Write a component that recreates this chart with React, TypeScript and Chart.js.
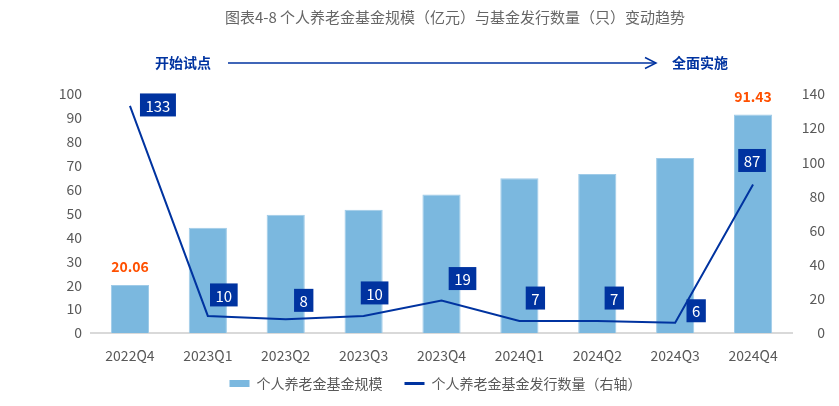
import React, { useEffect, useRef } from "react";
import { Chart, registerables } from "chart.js";

Chart.register(...registerables);

const categories = ["2022Q4", "2023Q1", "2023Q2", "2023Q3", "2023Q4", "2024Q1", "2024Q2", "2024Q3", "2024Q4"];
const fundSize = [20.06, 44.0, 49.5, 51.6, 57.9, 64.8, 66.5, 73.2, 91.43];
const fundCount = [133, 10, 8, 10, 19, 7, 7, 6, 87];
const sizeLabelIndexes = [0, 8];
const leftTicksMax = 100;
const rightTicksMax = 140;

const TITLE = "图表4-8 个人养老金基金规模（亿元）与基金发行数量（只）变动趋势";
const NAME_SIZE = "个人养老金基金规模";
const NAME_COUNT = "个人养老金基金发行数量（右轴）";
const PHASE_START = "开始试点";
const PHASE_END = "全面实施";

// label box offsets relative to each line point (style)
const LABEL_OFFSETS: [number, number][] = [
  [28, -1], [16, -21], [18, -19], [11, -23], [21, -22], [16, -23], [17, -23], [21, -12], [-1, -24],
];

const FONT = "'Noto Sans CJK SC', 'Noto Sans', sans-serif";
const BAR_COLOR = "#7bb8df";
const LINE_COLOR = "#0033a0";
const TEXT_COLOR = "#595959";

export default function App() {
  const ref = useRef<HTMLCanvasElement | null>(null);

  useEffect(() => {
    if (!ref.current) return;
    Chart.defaults.font.family = FONT;

    const decor = {
      id: "decor",
      afterLayout(chart: any) {
        const lg = chart.legend;
        if (lg) {
          lg.left += 23;
          lg.right += 23;
          lg.top -= 9.5;
          lg.bottom -= 9.5;
        }
      },
      afterDraw(chart: any) {
        const ctx = chart.ctx;
        ctx.save();
        // title
        ctx.font = `15px ${FONT}`;
        ctx.fillStyle = "#666666";
        ctx.textAlign = "center";
        ctx.textBaseline = "middle";
        ctx.fillText(TITLE, 455, 17);

        // phase annotation
        ctx.font = `bold 14px ${FONT}`;
        ctx.fillStyle = LINE_COLOR;
        ctx.textAlign = "left";
        ctx.fillText(PHASE_START, 155, 63);
        ctx.fillText(PHASE_END, 672, 63);
        ctx.strokeStyle = LINE_COLOR;
        ctx.lineWidth = 1.5;
        ctx.beginPath();
        ctx.moveTo(228, 63);
        ctx.lineTo(656, 63);
        ctx.stroke();
        ctx.beginPath();
        ctx.moveTo(645, 57.5);
        ctx.lineTo(656, 63);
        ctx.lineTo(645, 68.5);
        ctx.stroke();

        // bar value labels
        const barMeta = chart.getDatasetMeta(0);
        ctx.font = `bold 14px ${FONT}`;
        ctx.fillStyle = "#ff5000";
        ctx.textAlign = "center";
        sizeLabelIndexes.forEach((i) => {
          const el = barMeta.data[i];
          ctx.fillText(fundSize[i].toFixed(2), el.x, el.y - 18);
        });

        // line value labels
        const lineMeta = chart.getDatasetMeta(1);
        ctx.font = `15px ${FONT}`;
        lineMeta.data.forEach((pt: any, i: number) => {
          const txt = String(fundCount[i]);
          const w = ctx.measureText(txt).width + 11;
          const h = 23;
          const [dx, dy] = LABEL_OFFSETS[i];
          const cx = pt.x + dx;
          const cy = pt.y + dy;
          ctx.fillStyle = LINE_COLOR;
          ctx.fillRect(cx - w / 2, cy - h / 2, w, h);
          ctx.fillStyle = "#ffffff";
          ctx.textAlign = "center";
          ctx.textBaseline = "middle";
          ctx.fillText(txt, cx, cy + 1);
        });
        ctx.restore();
      },
    };

    const chart = new Chart(ref.current, {
      type: "bar",
      data: {
        labels: categories,
        datasets: [
          {
            type: "bar",
            label: NAME_SIZE,
            data: fundSize,
            backgroundColor: BAR_COLOR,
            borderColor: "#9fcbe8",
            borderWidth: 1,
            categoryPercentage: 1,
            barPercentage: 0.49,
            yAxisID: "y",
            order: 1,
          },
          {
            type: "line",
            label: NAME_COUNT,
            data: fundCount,
            borderColor: LINE_COLOR,
            backgroundColor: LINE_COLOR,
            borderWidth: 2,
            pointRadius: 0,
            tension: 0,
            yAxisID: "y1",
            order: 0,
          },
        ],
      } as any,
      options: {
        animation: false,
        responsive: true,
        maintainAspectRatio: false,
        layout: { padding: { top: 94, bottom: -4, left: 0, right: 14 } },
        plugins: {
          title: { display: false },
          tooltip: { enabled: false },
          legend: {
            position: "bottom",
            labels: {
              color: TEXT_COLOR,
              font: { size: 14, family: FONT },
              usePointStyle: true,
              pointStyleWidth: 20,
              boxHeight: 7,
              padding: 22,
              generateLabels(chart: any) {
                const items = Chart.defaults.plugins.legend.labels.generateLabels(chart);
                items.sort((a: any, b: any) => a.datasetIndex - b.datasetIndex);
                items.forEach((it: any) => {
                  if (it.datasetIndex === 0) {
                    it.pointStyle = "rect";
                    it.lineWidth = 0;
                    it.fillStyle = BAR_COLOR;
                  } else {
                    it.pointStyle = "line";
                    it.lineWidth = 3;
                    it.strokeStyle = LINE_COLOR;
                  }
                  it.fontColor = TEXT_COLOR;
                });
                return items;
              },
            },
          },
        },
        scales: {
          x: {
            grid: { display: false, drawTicks: false },
            border: { display: true, color: "#d9d9d9", width: 2 },
            ticks: { color: TEXT_COLOR, font: { size: 14 }, padding: 14 },
            afterFit(s: any) {
              s.height = 31;
            },
          },
          y: {
            position: "left",
            min: 0,
            max: leftTicksMax,
            grid: { display: false, drawTicks: false },
            border: { display: false },
            ticks: { stepSize: 10, color: TEXT_COLOR, font: { size: 14 }, padding: 9 },
            afterFit(s: any) {
              s.width = 91;
            },
          },
          y1: {
            position: "right",
            min: 0,
            max: rightTicksMax,
            grid: { display: false, drawTicks: false },
            border: { display: false },
            ticks: { stepSize: 20, color: TEXT_COLOR, font: { size: 14 }, padding: 8, crossAlign: "far" },
            afterFit(s: any) {
              s.width = 33;
            },
          },
        },
      } as any,
      plugins: [decor],
    });

    return () => chart.destroy();
  }, []);

  return (
    <div style={{ position: "absolute", left: 0, top: 0, width: 839, height: 406 }}>
      <canvas ref={ref} />
    </div>
  );
}
